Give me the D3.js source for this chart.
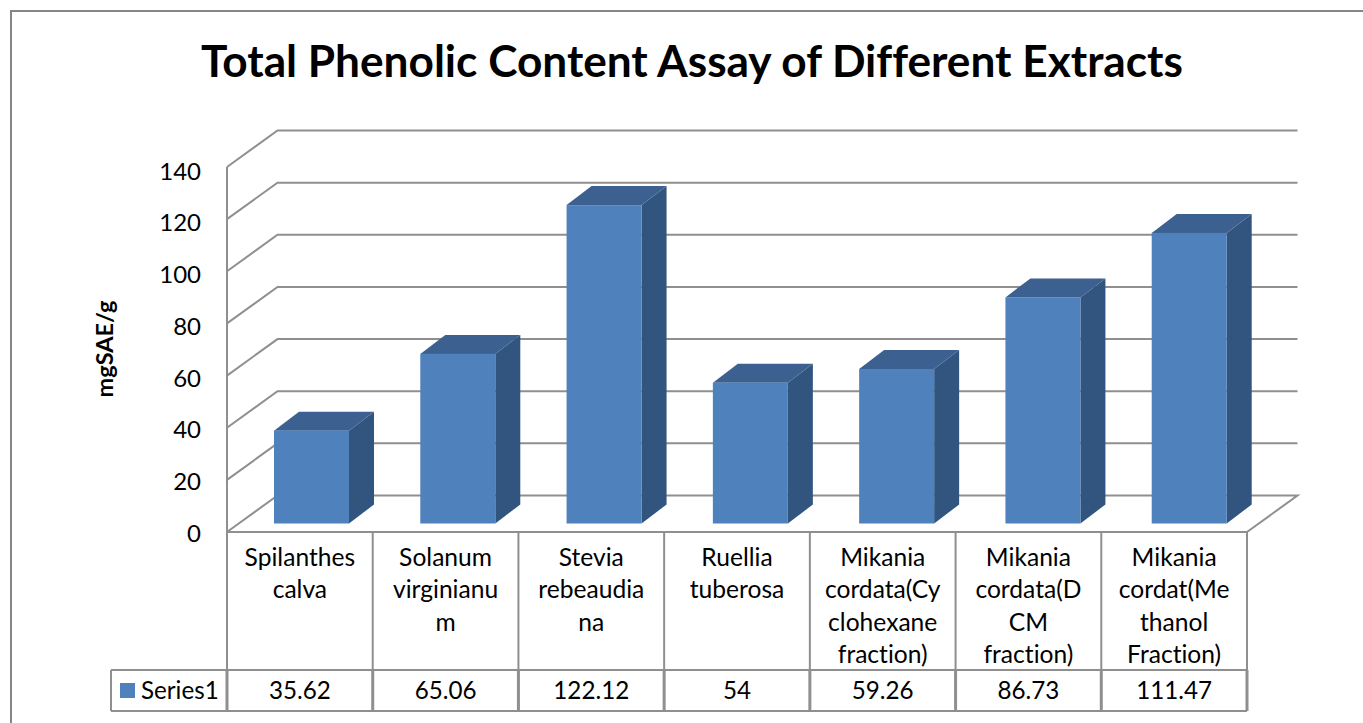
<!DOCTYPE html>
<html>
<head>
<meta charset="utf-8">
<script src="https://cdn.jsdelivr.net/npm/d3@7"></script>
<style>
  html, body { margin: 0; padding: 0; background: #fff; overflow: hidden; }
  text { font-family: Lato, "Open Sans", sans-serif; fill: #000; font-variant-ligatures: none; }
</style>
</head>
<body>
<div id="chart"></div>
<script>
// values
const categories = [
  "Spilanthes calva",
  "Solanum virginianum",
  "Stevia rebeaudiana",
  "Ruellia tuberosa",
  "Mikania cordata(Cyclohexane fraction)",
  "Mikania cordata(DCM fraction)",
  "Mikania cordat(Methanol Fraction)"
];
const categoryLines = [
  ["Spilanthes", "calva"],
  ["Solanum", "virginianu", "m"],
  ["Stevia", "rebeaudia", "na"],
  ["Ruellia", "tuberosa"],
  ["Mikania", "cordata(Cy", "clohexane", "fraction)"],
  ["Mikania", "cordata(D", "CM", "fraction)"],
  ["Mikania", "cordat(Me", "thanol", "Fraction)"]
];
const series1 = [35.62, 65.06, 122.12, 54, 59.26, 86.73, 111.47];
const valueLabels = ["35.62", "65.06", "122.12", "54", "59.26", "86.73", "111.47"];
const yTicks = [0, 20, 40, 60, 80, 100, 120, 140];

const width = 1363, height = 723;
const plot = { left: 227, right: 1247, top: 167, bottom: 532 };
const wall = { dx: 50.5, dy: -36.5 };   // floor depth of the 3d box
const bar = { width: 75, offset: 48, dx: 25, dy: -19, lift: 8.5 };
const table = { legendLeft: 111, rowTop: 670, bottom: 711 };

const gridColor = "#8f8f8f", borderColor = "#868686";
const front = "#4f81bd", top_ = "#3c6190", side = "#32557f";

const svg = d3.select("#chart")
  .append("svg")
  .attr("width", width)
  .attr("height", height)
  .style("display", "block");

const x = d3.scaleBand().domain(categories).range([plot.left, plot.right]);
// the bars sit on a slightly wider step than the table columns
const xBar = d3.scaleBand().domain(categories).range([226, 1250]);
const y = d3.scaleLinear().domain([0, 140]).range([plot.bottom, plot.top]);
// tick labels are not quite level with the gridlines
const yLabel = d3.scaleLinear().domain([0, 140]).range([533.5, 171.5]);

// outer border, only top and left are in the picture
svg.append("path")
  .attr("d", `M11,${height}V11H${width}`)
  .attr("fill", "none")
  .attr("stroke", borderColor)
  .attr("stroke-width", 2);

// title
svg.append("text")
  .attr("x", 692)
  .attr("y", 77)
  .attr("text-anchor", "middle")
  .attr("font-size", 44.2)
  .attr("font-weight", 700)
  .text("Total Phenolic Content Assay of Different Extracts");

// axis title
svg.append("text")
  .attr("transform", "translate(113,349) rotate(-90)")
  .attr("text-anchor", "middle")
  .attr("font-size", 23.5)
  .attr("font-weight", 700)
  .text("mgSAE/g");

// gridlines with the slanted part on the side wall
const grid = svg.append("g")
  .attr("fill", "none")
  .attr("stroke", gridColor)
  .attr("stroke-width", 2);

grid.selectAll("path")
  .data(yTicks.slice(1))
  .join("path")
  .attr("d", d => `M${plot.left},${y(d)}L${plot.left + wall.dx},${y(d) + wall.dy}H${plot.right + wall.dx}`);

// floor
grid.append("path")
  .attr("d", `M${plot.left},${y(0)}L${plot.left + wall.dx},${y(0) + wall.dy}H${plot.right + wall.dx}L${plot.right},${y(0)}`);

// y axis
grid.append("line")
  .attr("x1", plot.left).attr("x2", plot.left)
  .attr("y1", plot.top).attr("y2", plot.bottom);

const yAxis = d3.axisLeft(yLabel).tickValues(yTicks).tickSize(0).tickPadding(26);
const yG = svg.append("g")
  .attr("transform", `translate(${plot.left},0)`)
  .call(yAxis);
yG.select(".domain").remove();
yG.selectAll("text").attr("font-size", 24).attr("fill", "#000").style("font-family", "Lato");

// bars, each one a front, a top and a side face
const bars = svg.selectAll(".bar")
  .data(series1)
  .join("g")
  .attr("class", "bar")
  .attr("transform", (d, i) => `translate(${xBar(categories[i]) + bar.offset},0)`);

const yBase = y(0) - bar.lift;
const barTop = d => y(d) - bar.lift;

bars.append("path")
  .attr("fill", side)
  .attr("d", d => `M${bar.width},${barTop(d)}l${bar.dx},${bar.dy}V${yBase + bar.dy}l${-bar.dx},${-bar.dy}Z`);

bars.append("path")
  .attr("fill", top_)
  .attr("d", d => `M0,${barTop(d)}l${bar.dx},${bar.dy}h${bar.width}l${-bar.dx},${-bar.dy}Z`);

bars.append("rect")
  .attr("fill", front)
  .attr("x", 0)
  .attr("width", bar.width)
  .attr("y", d => barTop(d))
  .attr("height", d => yBase - barTop(d));

// data table lines
const tableLines = svg.append("g")
  .attr("fill", "none")
  .attr("stroke", gridColor)
  .attr("stroke-width", 2);

tableLines.append("line")
  .attr("x1", plot.left).attr("x2", plot.right)
  .attr("y1", plot.bottom).attr("y2", plot.bottom);
tableLines.append("path")
  .attr("d", `M${table.legendLeft},${table.rowTop}H${plot.right}M${table.legendLeft},${table.bottom}H${plot.right}M${table.legendLeft},${table.rowTop}V${table.bottom}`);

const seps = categories.map(c => x(c)).concat(plot.right);

tableLines.selectAll(".sep")
  .data(seps)
  .join("line")
  .attr("class", "sep")
  .attr("x1", d => d).attr("x2", d => d)
  .attr("y1", plot.bottom).attr("y2", table.rowTop);

// separators look heavier in the value row
tableLines.selectAll(".sepRow")
  .data(seps)
  .join("line")
  .attr("class", "sepRow")
  .attr("stroke-width", 3)
  .attr("x1", d => d).attr("x2", d => d)
  .attr("y1", table.rowTop).attr("y2", table.bottom);

// category labels
const cats = svg.selectAll(".cat")
  .data(categoryLines)
  .join("text")
  .attr("class", "cat")
  .attr("text-anchor", "middle")
  .attr("font-size", 24.6);

cats.selectAll("tspan")
  .data((d, i) => d.map(t => ({ t, i })))
  .join("tspan")
  .attr("x", d => x(categories[d.i]) + x.bandwidth() / 2)
  .attr("y", (d, j) => 566 + j * 32.4)
  .text(d => d.t);

// value row
svg.selectAll(".val")
  .data(valueLabels)
  .join("text")
  .attr("class", "val")
  .attr("text-anchor", "middle")
  .attr("font-size", 24.2)
  .attr("x", (d, i) => x(categories[i]) + x.bandwidth() / 2)
  .attr("y", 698.5)
  .text(d => d);

// legend key
svg.append("rect")
  .attr("x", 120).attr("y", 683)
  .attr("width", 15).attr("height", 15)
  .attr("fill", front);
svg.append("text")
  .attr("x", 141).attr("y", 698.5)
  .attr("font-size", 24.2)
  .text("Series1");
</script>
</body>
</html>
